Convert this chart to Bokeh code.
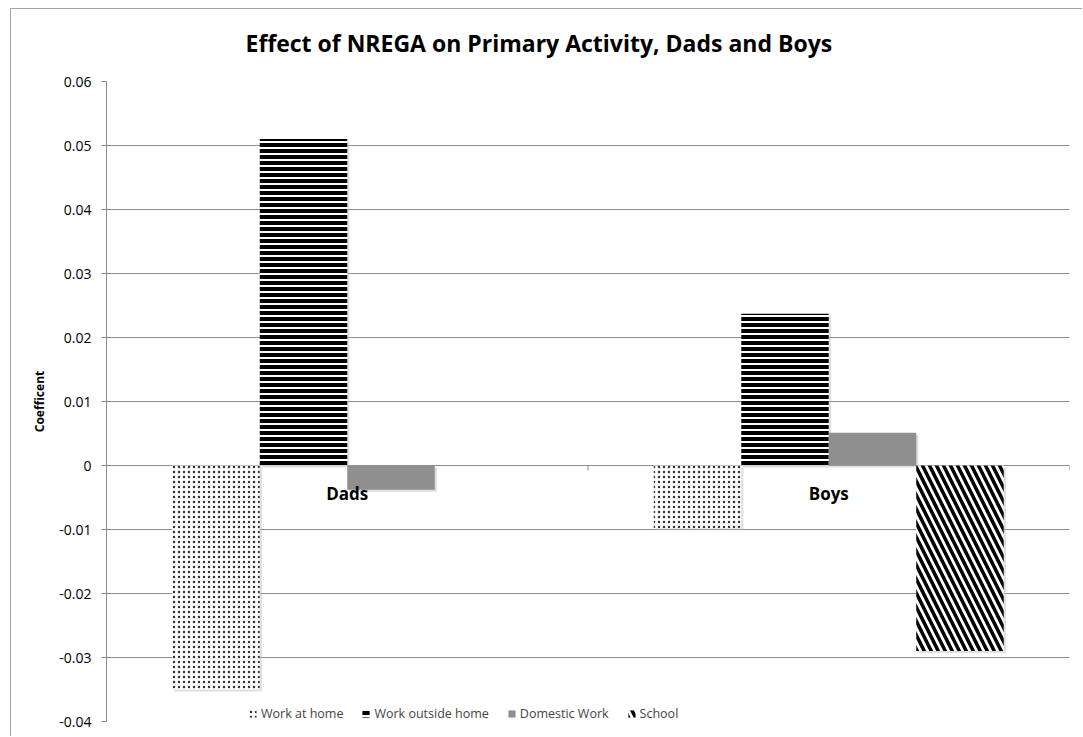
from bokeh.plotting import figure
from bokeh.models import (FactorRange, Range1d, FixedTicker, CustomJSTickFormatter,
                          Legend, LegendItem, ColumnDataSource, Title)
from bokeh.transform import dodge
from bokeh.core.properties import value
from bokeh.embed import file_html
from bokeh.resources import INLINE

# Regression coefficients by group and activity
categories = ["Dads", "Boys"]
series = ["Work at home", "Work outside home", "Domestic Work", "School"]
work_at_home = [-0.035, -0.0098]
work_outside_home = [0.051, 0.0237]
domestic_work = [-0.0038, 0.0051]
school = [0.0, -0.029]
y_ticks = [-0.04, -0.03, -0.02, -0.01, 0.0, 0.01, 0.02, 0.03, 0.04, 0.05, 0.06]

FONT = "Open Sans"
GRID = "#8c8c8c"

p = figure(
    width=1072, height=728,
    x_range=FactorRange(factors=categories, range_padding=0),
    y_range=Range1d(-0.04, 0.06),
    output_backend="svg", toolbar_location=None,
    min_border_left=95, min_border_right=14, min_border_top=72, min_border_bottom=16,
)
p.styles = {"margin-left": "10px", "margin-top": "8px",
            "border-left": "1px solid #a6a6a6", "border-top": "1px solid #a6a6a6"}
p.outline_line_color = None
p.background_fill_color = "white"
p.border_fill_color = "white"

p.title.text = "Effect of NREGA on Primary Activity, Dads and Boys"
p.title.align = "left"
p.title.offset = 139
p.title.text_font = FONT
p.title.text_font_size = "23px"
p.title.text_font_style = "bold"
p.title.text_color = "black"
p.title.standoff = 8
# blank band between the heading and the plot area
p.add_layout(Title(text=" ", text_font_size="12px", standoff=3), "above")

# Axes
p.xaxis.visible = False
p.xgrid.visible = False
yax = p.yaxis[0]
yax.ticker = FixedTicker(ticks=y_ticks)
yax.formatter = CustomJSTickFormatter(
    code="return Math.abs(tick) < 1e-9 ? '0' : tick.toFixed(2);")
yax.axis_line_color = GRID
yax.major_tick_line_color = GRID
yax.major_tick_out = 5
yax.major_tick_in = 0
yax.minor_tick_line_color = None
yax.major_label_text_font = FONT
yax.major_label_text_font_size = "14px"
yax.major_label_text_color = "black"
yax.major_label_standoff = 10
yax.axis_label = "Coefficent"
yax.axis_label_text_font = FONT
yax.axis_label_text_font_size = "12px"
yax.axis_label_text_font_style = "bold"
yax.axis_label_text_color = "black"
yax.axis_label_standoff = 8
p.ygrid.ticker = FixedTicker(ticks=y_ticks)
p.ygrid.grid_line_color = GRID

columns = dict(wah=work_at_home, woh=work_outside_home, dom=domestic_work, sch=school)
data = dict(cat=categories, **columns)
# soft drop shadow: each bar's span nudged ~2px downwards
shadow_dy = 0.0003
for k, vals in columns.items():
    data[k + "_lo"] = [min(v, 0) - shadow_dy for v in vals]
    data[k + "_hi"] = [max(v, 0) - shadow_dy for v in vals]
src = ColumnDataSource(data)

bw = 0.1817
offsets = [-1.5 * bw, -0.5 * bw, 0.5 * bw, 1.5 * bw]
styles = [
    dict(field="wah", fill_color="white", hatch_pattern=".", hatch_color="#333333",
         hatch_scale=5, hatch_weight=1),
    dict(field="woh", fill_color="white", hatch_pattern="-", hatch_color="black",
         hatch_scale=6, hatch_weight=4),
    dict(field="dom", fill_color="#8f8f8f", hatch_pattern=None, hatch_color="black",
         hatch_scale=6, hatch_weight=1),
    dict(field="sch", fill_color="white", hatch_pattern="\\", hatch_color="black",
         hatch_scale=14, hatch_weight=3.5),
]

for off, st in zip(offsets, styles):
    f = st["field"]
    p.vbar(x=dodge("cat", off + 0.0045, range=p.x_range), top=f + "_hi", bottom=f + "_lo",
           width=bw, source=src, fill_color="#b8b8b8", fill_alpha=0.45, line_color=None)

renderers = []
for off, st in zip(offsets, styles):
    kw = dict(fill_color=st["fill_color"], line_color=None)
    if st["hatch_pattern"]:
        kw.update(hatch_pattern=value(st["hatch_pattern"]), hatch_color=st["hatch_color"],
                  hatch_scale=st["hatch_scale"], hatch_weight=st["hatch_weight"])
    r = p.vbar(x=dodge("cat", off, range=p.x_range), top=st["field"], bottom=0,
               width=bw, source=src, **kw)
    renderers.append(r)

# Category boundary ticks on the zero line
p.segment(x0=dodge("cat", -0.5, range=p.x_range), x1=dodge("cat", -0.5, range=p.x_range),
          y0=0, y1=-0.0008, source=src, line_color=GRID)
p.segment(x0=dodge("cat", 0.5, range=p.x_range), x1=dodge("cat", 0.5, range=p.x_range),
          y0=0, y1=-0.0008, source=ColumnDataSource(dict(cat=categories[-1:])),
          line_color=GRID)

# Category labels under the zero line
p.text(x="cat", y=0, text="cat", source=src, text_align="center", text_baseline="middle",
       y_offset=28, text_font=value(FONT), text_font_size="17px", text_font_style="bold",
       text_color="black")

legend = Legend(items=[LegendItem(label=s, renderers=[r]) for s, r in zip(series, renderers)],
                orientation="horizontal", location=(142, -1),
                label_text_font=FONT, label_text_font_size="12.5px",
                glyph_width=9, glyph_height=9, label_standoff=4, spacing=18,
                padding=0, margin=0, border_line_color=None, background_fill_alpha=0)
p.add_layout(legend, "center")

open("out.html", "w").write(file_html(p, INLINE))
